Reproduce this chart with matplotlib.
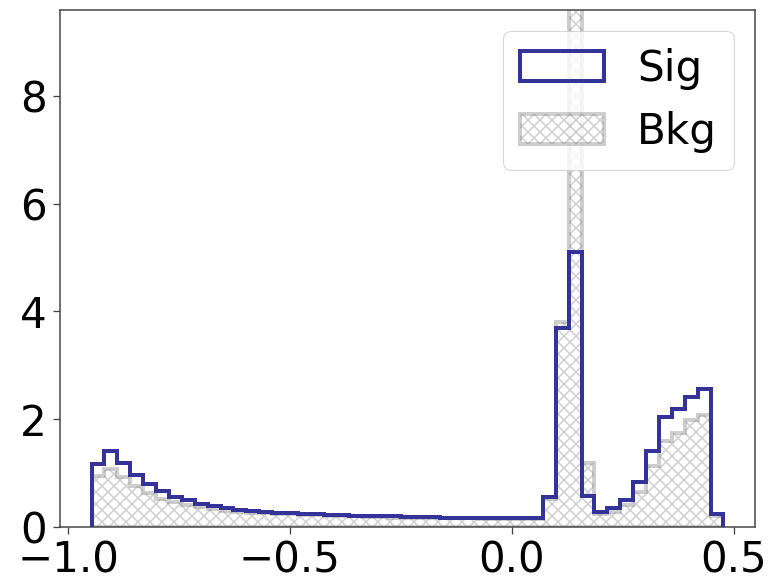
import numpy as np
import matplotlib
matplotlib.use("Agg")
import matplotlib.pyplot as plt

# bin edges (49 bins)
bin_lo, bin_hi, n_bins = -0.947, 0.477, 49

sig = [1.17, 1.40, 1.18, 0.96, 0.80, 0.67, 0.56, 0.49, 0.43, 0.38,
       0.34, 0.31, 0.29, 0.27, 0.26, 0.25, 0.24, 0.23, 0.22, 0.21,
       0.20, 0.20, 0.19, 0.19, 0.18, 0.18, 0.18, 0.17, 0.17, 0.17,
       0.17, 0.16, 0.16, 0.16, 0.16, 0.56, 3.70, 5.10, 0.57, 0.27,
       0.35, 0.50, 0.83, 1.41, 2.03, 2.18, 2.41, 2.55, 0.23]

bkg = [0.95, 1.08, 0.92, 0.75, 0.62, 0.52, 0.45, 0.40, 0.36, 0.33,
       0.30, 0.28, 0.26, 0.25, 0.24, 0.23, 0.22, 0.21, 0.20, 0.19,
       0.19, 0.18, 0.18, 0.17, 0.17, 0.17, 0.16, 0.16, 0.16, 0.16,
       0.15, 0.15, 0.15, 0.15, 0.15, 0.52, 3.80, 10.0, 1.18, 0.24,
       0.28, 0.40, 0.65, 1.12, 1.59, 1.74, 1.99, 2.08, 0.20]

labels = ["Sig", "Bkg"]
yticks = [0, 2, 4, 6, 8]

edges = np.linspace(bin_lo, bin_hi, n_bins + 1)
centers = 0.5 * (edges[:-1] + edges[1:])

plt.rcParams['hatch.linewidth'] = 1.5

fig = plt.figure(figsize=(772 / 72, 579 / 72), dpi=72)
ax = fig.add_axes([60 / 772, 1 - 526.7 / 579, 695 / 772, 516.7 / 579])

ax.hist(centers, bins=edges, weights=bkg, histtype='stepfilled',
        facecolor='none', edgecolor='grey', hatch='xx', alpha=0.38,
        linewidth=4, label=labels[1], zorder=2)
ax.hist(centers, bins=edges, weights=sig, histtype='step',
        color='#33339a', linewidth=4, label=labels[0], zorder=3)

ax.set_ylim(0, 9.6)
ax.set_yticks(yticks)
ax.set_xticks([-1.0, -0.5, 0.0, 0.5])
ax.tick_params(labelsize=42, length=7, width=1.3, pad=6, color='#444444')
for s in ax.spines.values():
    s.set_linewidth(1.5)
    s.set_color('#444444')

h, l = ax.get_legend_handles_labels()
order = [l.index("Sig"), l.index("Bkg")]
ax.legend([h[i] for i in order], [l[i] for i in order], loc='upper right',
          fontsize=42, framealpha=0.8)

fig.savefig("out.png", dpi=72)
